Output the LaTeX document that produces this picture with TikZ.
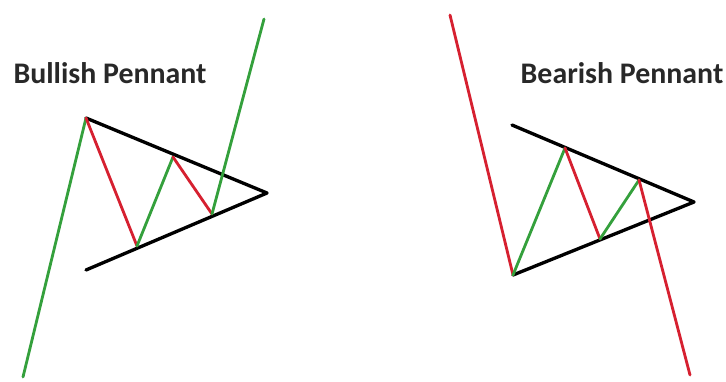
\documentclass[tikz,border=0pt]{standalone}
\usepackage{fontspec}
\setmainfont{Carlito}
\usepackage{xcolor}
\usepackage{tikz}
\usetikzlibrary{calc}

\definecolor{upgreen}{RGB}{52,160,60}
\definecolor{downred}{RGB}{214,32,48}
\definecolor{titlegray}{RGB}{40,40,40}

\begin{document}
\begin{tikzpicture}[
  x=0.2mm, y=-0.2mm, line cap=round, line join=round,
  title/.style={font=\fontsize{17}{20}\selectfont\bfseries, text=titlegray, inner sep=0pt},
  trend/.style={black, line width=1.9pt},
  up/.style={upgreen, line width=1.6pt},
  down/.style={downred, line width=1.6pt}
]
\useasboundingbox (0,0) rectangle (726,381);
% bullish pennant
\coordinate (bu0) at (23,377);
\coordinate (bu1) at (86,118);
\coordinate (bu2) at (137,246);
\coordinate (bu3) at (173,157);
\coordinate (bu4) at (212,214);
\coordinate (bu5) at (264,19);
\coordinate (buLow) at (86,270);
\coordinate (buApex) at (267,193);
\node[title] (buTitle) at (110,73) {Bullish Pennant};
\draw[trend] (bu1) -- (buApex) -- (buLow);
\draw[up] (bu0) -- (bu1);
\draw[down] (bu1) -- (bu2);
\draw[up] (bu2) -- (bu3);
\draw[down] (bu3) -- (bu4);
\draw[up] (bu4) -- (bu5);
% bearish pennant
\coordinate (be0) at (450,15);
\coordinate (be1) at (513,275);
\coordinate (be2) at (565,148);
\coordinate (be3) at (600,239);
\coordinate (be4) at (639,180);
\coordinate (be5) at (690,375);
\coordinate (beHigh) at (512,125);
\coordinate (beApex) at (694,202);
\node[title] (beTitle) at (622,73) {Bearish Pennant};
\draw[trend] (beHigh) -- (beApex) -- (be1);
\draw[down] (be0) -- (be1);
\draw[up] (be1) -- (be2);
\draw[down] (be2) -- (be3);
\draw[up] (be3) -- (be4);
\draw[down] (be4) -- (be5);
\end{tikzpicture}
\end{document}
